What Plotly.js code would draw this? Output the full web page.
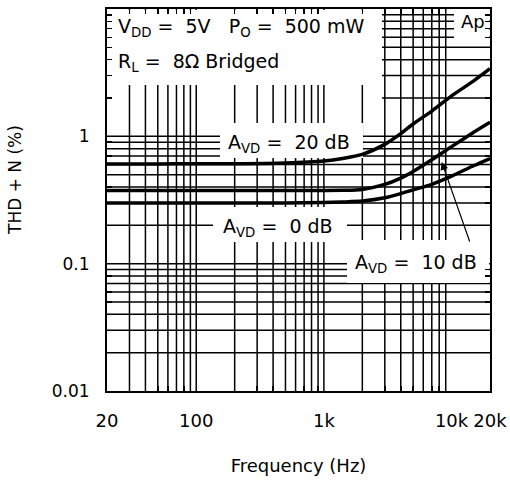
<!DOCTYPE html>
<html>
<head>
<meta charset="utf-8">
<script src="https://cdn.plot.ly/plotly-3.0.1.min.js"></script>
<style>body{margin:0;background:#fff}#chart{width:510px;height:480px}</style>
</head>
<body>
<div id="chart"></div>
<script>
// ---- data ----
const freqHz  = [20, 50, 100, 200, 500, 1000, 1400, 2000, 3000, 4000, 5000, 7000, 10000, 15000, 20000];
const thd20dB = [0.605, 0.607, 0.61, 0.61, 0.618, 0.64, 0.67, 0.722, 0.865, 1.05, 1.25, 1.58, 2.08, 2.74, 3.40];
const thd10dB = [0.376, 0.376, 0.376, 0.376, 0.376, 0.376, 0.377, 0.383, 0.419, 0.47, 0.53, 0.655, 0.83, 1.08, 1.29];
const thd0dB  = [0.30, 0.30, 0.30, 0.30, 0.30, 0.302, 0.305, 0.31, 0.329, 0.355, 0.38, 0.42, 0.487, 0.59, 0.67];

const xTickVals = [20, 100, 1000, 10000, 20000];
const xTickText = ['20', '100', '1k', '10k', '20k'];
const yTickVals = [0.01, 0.1, 1, 10];
const yTickText = ['0.01', '0.1', '1', '10'];

// grid values (1..9 in every decade, inside the ranges)
const xGrid = [], yGrid = [];
[10, 100, 1000].forEach(d => { for (let k = 1; k <= 9; k++) { const v = k * d; if (v > 20 && v < 20000) xGrid.push(v); } });
[0.01, 0.1, 1].forEach(d => { for (let k = 1; k <= 9; k++) { const v = +(k * d).toPrecision(3); if (v > 0.01 && v < 10) yGrid.push(v); } });
const xMinor = xGrid.filter(v => xTickVals.indexOf(v) < 0);
const yMinor = yGrid.filter(v => yTickVals.indexOf(v) < 0);

// ---- layout helpers ----
const L = 107, R = 490, T = 9, B = 391;
const X0 = Math.log10(20), X1 = Math.log10(20000), Y0 = -2, Y1 = 1;
const fx = p => Math.pow(10, X0 + (p - L) / (R - L) * (X1 - X0));   // pixel -> Hz
const fy = p => Math.pow(10, Y1 - (p - T) / (B - T) * (Y1 - Y0));   // pixel -> %
const px = p => (p - L) / (R - L);
const py = p => (B - p) / (B - T);
const FONT = 'DejaVu Sans';
const GW = 1.5;

const curve = (y, name) => ({
  x: freqHz, y: y, name: name, type: 'scatter', mode: 'lines',
  line: {color: '#000', width: 3.5, shape: 'spline', smoothing: 0.7},
  hoverinfo: 'skip', showlegend: false
});
const traces = [curve(thd20dB, '20 dB'), curve(thd10dB, '10 dB'), curve(thd0dB, '0 dB')];

const shapes = [];
xGrid.forEach(v => shapes.push({type: 'line', xref: 'x', yref: 'y', x0: v, x1: v, y0: 0.01, y1: 10,
  line: {color: '#000', width: GW}, layer: 'below'}));
// in the top decade the horizontal grid only starts right of the conditions block
yGrid.forEach(v => shapes.push({type: 'line', xref: 'x', yref: 'y', x0: v > 1 ? fx(382) : 20, x1: 20000, y0: v, y1: v,
  line: {color: '#000', width: GW}, layer: 'below'}));
function mask(x0, y0, x1, y1) {
  shapes.push({type: 'rect', xref: 'x', yref: 'y', x0: fx(x0), x1: fx(x1), y0: fy(y1), y1: fy(y0),
    fillcolor: '#fff', line: {width: 0}, layer: 'below'});
}
mask(108, 10, 382, 85);    // conditions text area
mask(220, 123, 363, 158);  // 20 dB label
mask(213, 207, 347, 242);  // 0 dB label
mask(347, 240, 489, 283);  // 10 dB label
mask(454, 10, 489, 41);    // Ap

const ann = (text, x, y, size) => ({
  text: text, xref: 'paper', yref: 'paper', x: px(x), y: py(y), xanchor: 'left', yanchor: 'middle',
  showarrow: false, font: {family: FONT, size: size || 19, color: '#000'}
});

const sp = '\u00a0';
const annotations = [
  ann('V<sub>DD</sub>' + sp + '=' + sp + sp + '5V' + sp + sp + sp + 'P<sub>O</sub>' + sp + '=' + sp + sp + '500' + sp + 'mW', 116, 28),
  ann('R<sub>L</sub>' + sp + '=' + sp + sp + '8\u03a9' + sp + 'Bridged', 116, 63),
  ann('Ap', 459, 21, 18),
  ann('A<sub>VD</sub>' + sp + '=' + sp + sp + '20' + sp + 'dB', 226, 143),
  ann('A<sub>VD</sub>' + sp + '=' + sp + sp + '0' + sp + 'dB', 221, 227),
  ann('A<sub>VD</sub>' + sp + '=' + sp + sp + '10' + sp + 'dB', 353, 263),
  // arrow to the 10 dB curve
  {text: '', xref: 'paper', yref: 'paper', x: px(441.7), y: py(162), showarrow: true,
   axref: 'pixel', ayref: 'pixel', ax: 28.5, ay: 81, arrowhead: 2, arrowsize: 1.3, arrowwidth: 1.2, arrowcolor: '#000', standoff: 0},
  // y axis title
  {text: 'THD + N (%)', xref: 'paper', yref: 'paper', x: px(15), y: py(180), xanchor: 'center', yanchor: 'middle',
   textangle: -90, showarrow: false, font: {family: FONT, size: 17, color: '#000'}}
];

const axisCommon = {
  type: 'log', tickmode: 'array', ticks: 'inside', ticklen: 0, ticklabelstandoff: 12,
  showgrid: false, showline: true, linecolor: '#000', linewidth: 2, mirror: 'ticks',
  zeroline: false, fixedrange: true
};

const layout = {
  width: 510, height: 480,
  margin: {l: L, r: 510 - R, t: T, b: 480 - B, pad: 0},
  paper_bgcolor: '#fff', plot_bgcolor: 'rgba(0,0,0,0)',
  showlegend: false,
  font: {family: FONT, color: '#000'},
  xaxis: Object.assign({}, axisCommon, {
    range: [X0, X1], tickvals: xTickVals, ticktext: xTickText,
    tickfont: {family: FONT, size: 18, color: '#000'},
    minor: {tickmode: 'array', tickvals: xMinor, showgrid: false, ticks: 'inside', ticklen: 5, tickcolor: '#000', tickwidth: GW},
    title: {text: 'Frequency (Hz)', font: {family: FONT, size: 18, color: '#000'}, standoff: 30}
  }),
  yaxis: Object.assign({}, axisCommon, {
    range: [Y0, Y1], tickvals: yTickVals, ticktext: yTickText,
    tickfont: {family: FONT, size: 17, color: '#000'},
    minor: {tickmode: 'array', tickvals: yMinor, showgrid: false, ticks: 'inside', ticklen: 5, tickcolor: '#000', tickwidth: GW}
  }),
  shapes: shapes,
  annotations: annotations
};

Plotly.newPlot('chart', traces, layout, {staticPlot: true, displayModeBar: false});
</script>
</body>
</html>
